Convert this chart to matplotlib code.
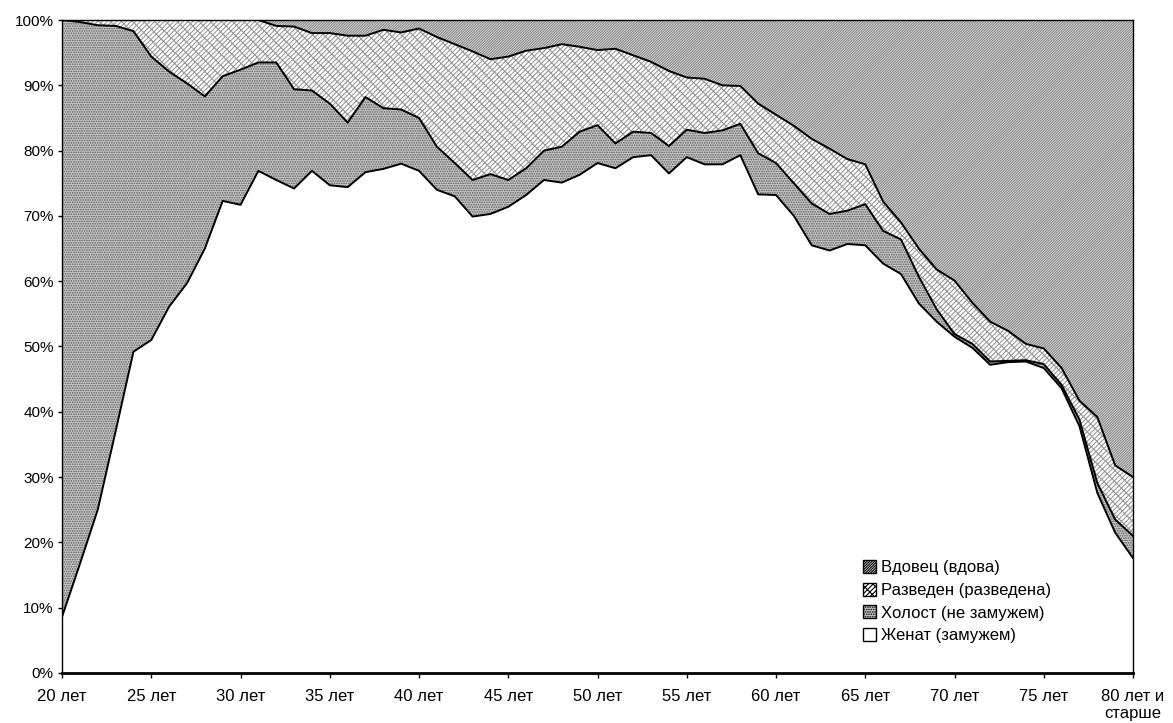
import numpy as np
import matplotlib
matplotlib.use("Agg")
import matplotlib.pyplot as plt
from matplotlib.patches import Patch

# ages 20 .. 80 (80 = "80 лет и старше")
ages = list(range(20, 81))

# shares, % of each age group
married = [8.6, 16.7, 25.0, 37.0, 49.2, 51.0, 56.1, 59.7, 65.0, 72.3,
           71.7, 76.9, 75.5, 74.2, 76.9, 74.7, 74.4, 76.7, 77.2, 78.0,
           76.9, 74.0, 73.0, 69.9, 70.3, 71.4, 73.2, 75.5, 75.1, 76.3,
           78.1, 77.3, 79.0, 79.3, 76.5, 79.0, 77.9, 77.9, 79.3, 73.3,
           73.2, 70.0, 65.5, 64.7, 65.7, 65.5, 62.7, 61.1, 56.6, 53.8,
           51.5, 49.8, 47.2, 47.6, 47.7, 46.7, 43.6, 37.8, 27.6, 21.5,
           17.6]
single = [91.4, 83.0, 74.2, 62.1, 49.1, 43.4, 36.0, 30.6, 23.3, 19.1,
          20.7, 16.6, 18.0, 15.2, 12.3, 12.5, 9.9, 11.5, 9.3, 8.3,
          8.1, 6.6, 5.1, 5.6, 6.1, 4.1, 4.1, 4.5, 5.5, 6.6,
          5.8, 3.8, 3.9, 3.4, 4.2, 4.2, 4.8, 5.2, 4.8, 6.3,
          4.9, 5.0, 6.4, 5.6, 5.1, 6.3, 5.0, 5.3, 4.1, 1.9,
          0.4, 0.6, 0.5, 0.2, 0.2, 0.6, 0.5, 1.0, 1.5, 2.0,
          3.4]
divorced = [0.0, 0.3, 0.8, 0.9, 1.7, 5.6, 7.9, 9.7, 11.7, 8.6,
            7.6, 6.5, 5.6, 9.6, 8.8, 10.8, 13.3, 9.4, 12.0, 11.8,
            13.7, 16.8, 18.2, 19.7, 17.6, 18.9, 18.0, 15.7, 15.7, 13.0,
            11.5, 14.5, 11.7, 10.9, 11.5, 8.0, 8.3, 6.9, 5.8, 7.6,
            7.4, 8.8, 9.9, 10.0, 7.9, 6.1, 4.5, 2.6, 4.3, 6.1,
            8.2, 6.3, 6.1, 4.6, 2.5, 2.4, 2.6, 2.9, 10.1, 8.3,
            9.0]
widowed = [0.0, 0.0, 0.0, 0.0, 0.0, 0.0, 0.0, 0.0, 0.0, 0.0,
           0.0, 0.0, 0.9, 1.0, 2.0, 2.0, 2.4, 2.4, 1.5, 1.9,
           1.3, 2.6, 3.7, 4.8, 6.0, 5.6, 4.7, 4.3, 3.7, 4.1,
           4.6, 4.4, 5.4, 6.4, 7.8, 8.8, 9.0, 10.0, 10.1, 12.8,
           14.5, 16.2, 18.2, 19.7, 21.3, 22.1, 27.8, 31.0, 35.0, 38.2,
           39.9, 43.3, 46.2, 47.6, 49.6, 50.3, 53.3, 58.3, 60.8, 68.2,
           70.0]

labels = ["Женат (замужем)", "Холост (не замужем)",
          "Разведен (разведена)", "Вдовец (вдова)"]
x_ticks = list(range(20, 81, 5))
x_ticklabels = [f"{a} лет" for a in x_ticks[:-1]] + ["80 лет и\nстарше"]
y_ticks = list(range(0, 101, 10))

plt.rcParams["font.family"] = ["Liberation Sans", "DejaVu Sans"]
plt.rcParams["hatch.linewidth"] = 0.8

fig, ax = plt.subplots(figsize=(11.73, 7.23), dpi=100)
fig.subplots_adjust(left=0.0529, right=0.9659, bottom=0.0692, top=0.9723)

x = np.array(ages)
series = [np.array(married), np.array(single), np.array(divorced), np.array(widowed)]
cum = np.cumsum(series, axis=0)
cum = cum / cum[-1] * 100   # normalise to 100 %

styles = [
    dict(facecolor="white", edgecolor="white", hatch=None),
    dict(facecolor="#c6c6c6", edgecolor="#5c5c5c", hatch="......."),
    dict(facecolor="white", edgecolor="#9c9c9c", hatch="///////\\\\\\"),
    dict(facecolor="#e2e2e2", edgecolor="#8a8a8a", hatch="/" * 13),
]

lower = np.zeros_like(x, dtype=float)
for i, st in enumerate(styles):
    ax.fill_between(x, lower, cum[i], linewidth=0, zorder=2, **st)
    lower = cum[i]

# grid, alternating dark / light like the original
for v in y_ticks[1:-1]:
    ax.axhline(v, color="black" if v % 20 == 0 else "#a8a8a8", lw=0.9, zorder=1.5)
for a in x_ticks[1:-1]:
    ax.axvline(a, color="black" if a % 10 == 0 else "#a8a8a8", lw=0.9, zorder=1.5)

# boundary lines
for i in range(3):
    ax.plot(x, cum[i], color="black", lw=1.4, zorder=3)

ax.set_xlim(20, 80)
ax.set_ylim(0, 100)
ax.set_xticks(x_ticks)
ax.set_xticklabels(x_ticklabels, fontsize=12)
ax.set_yticks(y_ticks)
ax.set_yticklabels([f"{v}%" for v in y_ticks], fontsize=11)
ax.tick_params(axis="x", direction="out", length=3.5, width=1, pad=8)
ax.tick_params(axis="y", direction="out", length=3, width=1, pad=3)
for s in ax.spines.values():
    s.set_linewidth(1.0)
    s.set_zorder(4)
ax.spines["bottom"].set_linewidth(2.0)

handles = [Patch(facecolor=st["facecolor"], edgecolor="black", hatch=st["hatch"], lw=1.0)
           for st in styles]
leg = ax.legend(handles[::-1], labels[::-1], loc="lower left",
                bbox_to_anchor=(0.735, 0.025), frameon=True, fontsize=12,
                handlelength=0.8, handleheight=0.8, handletextpad=0.3,
                labelspacing=0.45, borderpad=0.3)
leg.get_frame().set_edgecolor("white")
leg.get_frame().set_facecolor("white")
leg.get_frame().set_alpha(1.0)
leg.set_zorder(5)

fig.savefig("out.png", dpi=100)
